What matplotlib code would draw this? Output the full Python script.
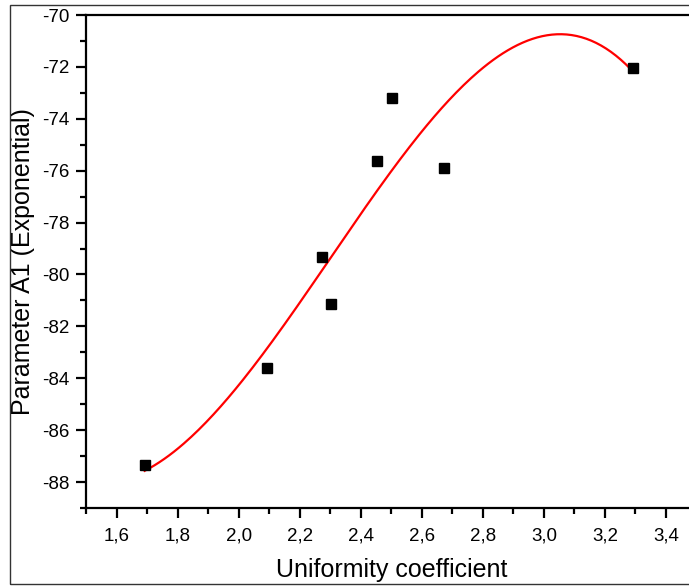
import numpy as np
import matplotlib.pyplot as plt
from matplotlib.ticker import MultipleLocator, FuncFormatter
from matplotlib.patches import Rectangle

plt.rcParams["font.family"] = ["Liberation Sans", "DejaVu Sans"]

# values
uniformity = [1.692, 2.092, 2.272, 2.302, 2.452, 2.502, 2.672, 3.292]
param_a1 = [-87.35, -83.6, -79.31, -81.12, -75.62, -73.19, -75.88, -72.04]
x_ticks = [1.6, 1.8, 2.0, 2.2, 2.4, 2.6, 2.8, 3.0, 3.2, 3.4]
y_ticks = [-88, -86, -84, -82, -80, -78, -76, -74, -72, -70]

# cubic fit, as in the original software
coef = np.polyfit(uniformity, param_a1, 3)
xf = np.linspace(min(uniformity), max(uniformity), 200)
yf = np.polyval(coef, xf)

fig = plt.figure(figsize=(6.89, 5.88), dpi=100)
ax = fig.add_axes([86 / 689, 80 / 588, 610.5 / 689, 493 / 588])

ax.plot(xf, yf, color="red", lw=1.6, zorder=2)
ax.plot(uniformity, param_a1, "s", color="black", ms=7.5, zorder=3)

ax.set_xlim(1.5, 3.5)
ax.set_ylim(-89, -70)
ax.set_xticks(x_ticks)
ax.set_yticks(y_ticks)
ax.xaxis.set_minor_locator(MultipleLocator(0.1))
ax.yaxis.set_minor_locator(MultipleLocator(1))
ax.xaxis.set_major_formatter(FuncFormatter(lambda v, p: f"{v:.1f}".replace(".", ",")))
ax.yaxis.set_major_formatter(FuncFormatter(lambda v, p: f"{v:.0f}"))

for s in ax.spines.values():
    s.set_linewidth(1.6)
ax.tick_params(which="major", direction="out", length=7, width=1.6, labelsize=13.5, pad=5)
ax.tick_params(which="minor", direction="out", length=4, width=1.6)
ax.tick_params(axis="x", which="major", pad=7)

ax.set_xlabel("Uniformity coefficient", fontsize=18, labelpad=10)
ax.set_ylabel("Parameter A1 (Exponential)", fontsize=18, labelpad=5)

fig.patches.append(Rectangle((10 / 689, 4 / 588), 700 / 689, 579 / 588,
                             transform=fig.transFigure, fill=False,
                             edgecolor="#333333", lw=1.0))

fig.savefig("out.png", dpi=100)
